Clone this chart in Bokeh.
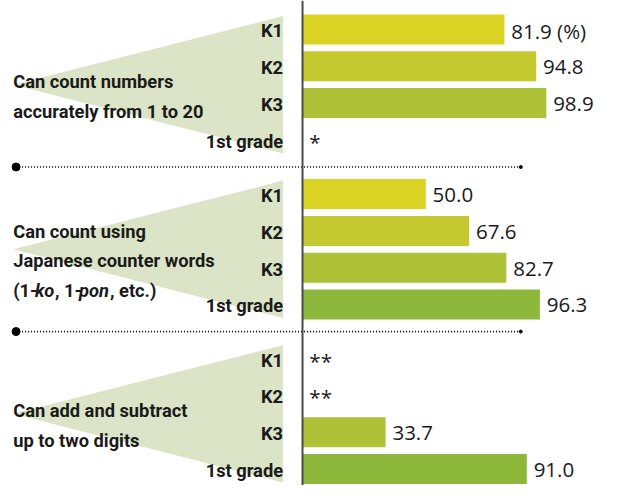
from bokeh.plotting import figure
from bokeh.models import Range1d, Span
from bokeh.core.properties import value
from bokeh.embed import file_html
from bokeh.resources import INLINE

# ---------------- data ----------------
grades = ["K1", "K2", "K3", "1st grade"]
group_lines = [
    ["Can count numbers", "accurately from 1 to 20"],
    ["Can count using", "Japanese counter words", "(1-ko, 1-pon, etc.)"],
    ["Can add and subtract", "up to two digits"],
]
# pieces of the third line of group 2: (text, italic)
counter_line_pieces = [("(1-", False), ("ko", True), (", 1-", False), ("pon", True), (", etc.)", False)]
count_values = [81.9, 94.8, 98.9, None]
counter_values = [50.0, 67.6, 82.7, 96.3]
arith_values = [None, None, 33.7, 91.0]
count_notes = [None, None, None, "*"]
counter_notes = [None, None, None, None]
arith_notes = ["**", "**", None, None]
unit_suffix = " (%)"

all_values = [count_values, counter_values, arith_values]
all_notes = [count_notes, counter_notes, arith_notes]

# ---------------- styles / layout ----------------
bar_colors = ["#dbd324", "#c4c92f", "#adc237", "#8db83c"]
wedge_color = "#dbe4c6"
text_color = "#1a1a1a"
BOLD_FONT = value("Roboto")
NUM_FONT = value("Open Sans")

W, H = 606, 485
REF_W, REF_H = 622.0, 501.0
SX = W / REF_W
LABEL_PX = 18.8 * SX
LABEL_SIZE = f"{LABEL_PX:.1f}px"
NUM_SIZE = f"{21.0 * SX:.1f}px"

PX = 2.53            # reference pixels per percent
PITCH = 38.0         # reference pixels per row
GAP = 18.0 / PITCH   # extra gap between groups (rows)
STRIDE = len(grades) + GAP
BAR_H = 31.0 / PITCH

# approximate Roboto Bold advance widths (em)
ROBOTO_W = {"(": 0.347, "1": 0.562, "-": 0.277, "k": 0.526, "o": 0.570, ",": 0.223,
            " ": 0.249, "p": 0.561, "n": 0.562, "e": 0.538, "t": 0.343, "c": 0.527,
            ".": 0.276, ")": 0.351}
ROBOTO_CORR = 1.0


def xu(ref_x):
    return (ref_x - 310.0) / PX


def yu(ref_y):
    return (ref_y - 30.0) / PITCH


p = figure(width=W, height=H, output_backend="svg", toolbar_location=None,
           x_range=Range1d(xu(0), xu(REF_W)), y_range=Range1d(yu(REF_H), yu(0)),
           min_border=0)
p.axis.visible = False
p.grid.visible = False
p.outline_line_color = None
p.background_fill_color = "white"

left_x = xu(13)
wedge_right = xu(290)

for g, (vals, notes, lines) in enumerate(zip(all_values, all_notes, group_lines)):
    base = g * STRIDE
    ys = [base + i for i in range(len(grades))]
    center = base + (len(grades) - 1) / 2.0
    # wedge
    top = ys[0] - 14.0 / PITCH
    bot = ys[-1] + 14.0 / PITCH
    p.patch([left_x, wedge_right, wedge_right], [center, top, bot],
            fill_color=wedge_color, line_color=None)
    # grade labels
    p.text(x=[xu(290)] * len(grades), y=[y + 1.5 / PITCH for y in ys], text=grades,
           text_align="right", text_baseline="middle", text_font=BOLD_FONT,
           text_font_style="bold", text_font_size=LABEL_SIZE, text_color=text_color)
    # group label lines
    n = len(lines)
    for j, line in enumerate(lines):
        ly = center + (12.0 + (j - (n - 1) / 2.0) * 30.5) / PITCH
        if g == 1 and j == 2:
            cx = left_x
            for piece, italic in counter_line_pieces:
                p.text(x=[cx], y=[ly], text=[piece], text_align="left",
                       text_baseline="alphabetic", text_font=BOLD_FONT,
                       text_font_style="bold italic" if italic else "bold",
                       text_font_size=LABEL_SIZE, text_color=text_color)
                wpx = sum(ROBOTO_W[c] for c in piece) * ROBOTO_CORR * LABEL_PX / SX
                cx += wpx / PX
        else:
            p.text(x=[left_x], y=[ly], text=[line], text_align="left",
                   text_baseline="alphabetic", text_font=BOLD_FONT,
                   text_font_style="bold", text_font_size=LABEL_SIZE, text_color=text_color)
    # bars
    for i, v in enumerate(vals):
        if v is not None:
            p.hbar(y=[ys[i]], left=[0], right=[v], height=BAR_H,
                   fill_color=bar_colors[i], line_color=None)
            label = f"{v:.1f}" + (unit_suffix if (g == 0 and i == 0) else "")
            p.text(x=[v + 7.0 / PX], y=[ys[i] + 1.0 / PITCH], text=[label],
                   text_align="left", text_baseline="middle", text_font=NUM_FONT,
                   text_font_size=NUM_SIZE, text_color=text_color)
        elif notes[i]:
            p.text(x=[xu(317)], y=[ys[i] + 2.0 / PITCH], text=[notes[i]],
                   text_align="left", text_baseline="middle", text_font=NUM_FONT,
                   text_font_size=NUM_SIZE, text_color=text_color)
    # separator
    if g > 0:
        sy = base - (GAP + 1.0) / 2.0
        p.line([xu(16), xu(535)], [sy, sy], line_color="black", line_width=1.6,
               line_dash="1 2")
        p.scatter([xu(16)], [sy], size=8, color="black")
        p.scatter([xu(534)], [sy], size=3, color="black")

p.add_layout(Span(location=0, dimension="height", line_color="#4a4a4a", line_width=2))

open("out.html", "w").write(file_html(p, INLINE))
